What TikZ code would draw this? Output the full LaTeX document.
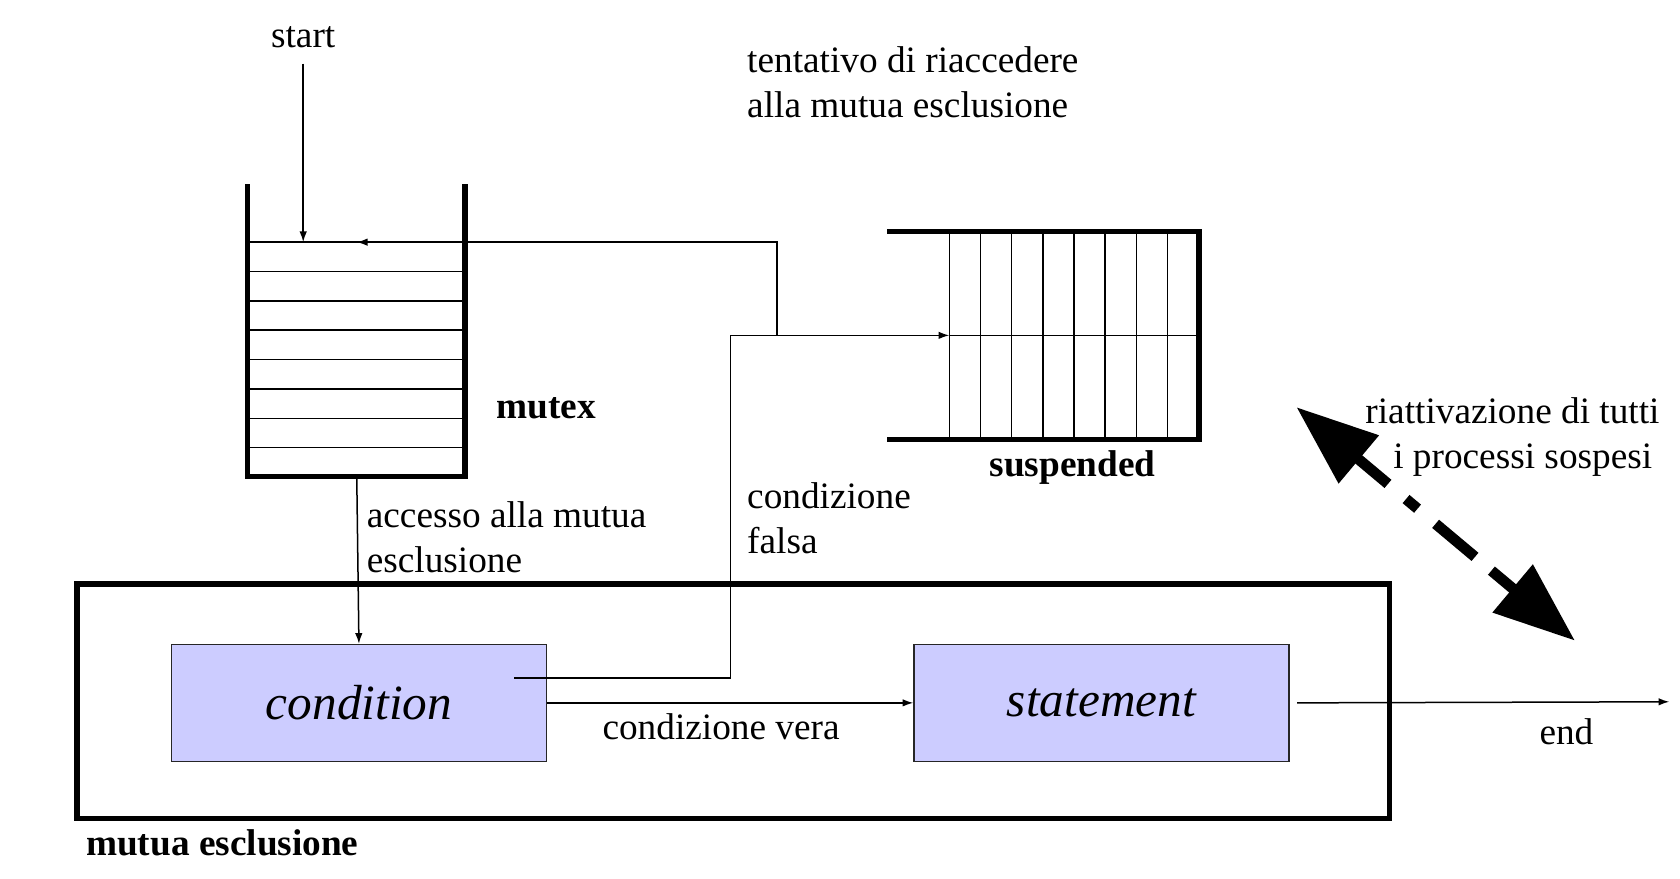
\documentclass[tikz,border=0pt]{standalone}
\usepackage{fontspec}
\setmainfont{Liberation Serif}
\usetikzlibrary{arrows.meta}
\definecolor{boxfill}{HTML}{CCCCFF}
\begin{document}
\begin{tikzpicture}[x=0.5pt,y=-0.5pt,
  lbl/.style={inner sep=0pt, font=\fontsize{17.4}{21}\selectfont},
  lblb/.style={inner sep=0pt, font=\fontsize{17.4}{21}\selectfont\bfseries},
  box/.style={draw=black!85, line width=0.6pt, fill=boxfill, minimum width=175pt,
    minimum height=54.5pt, inner sep=0pt, font=\fontsize{23}{27}\selectfont\itshape},
  thinline/.style={line width=0.7pt},
  wall/.style={line width=2.5pt},
  arr/.style={thinline, -{Latex[length=5pt,width=3.5pt]}},
  bigarr/.style={line width=5pt, {Triangle[length=38pt,width=28pt]}-{Triangle[length=38pt,width=28pt]},
    dash pattern=on 19pt off 11pt on 7pt off 11pt on 24pt off 10pt on 20pt off 10pt},
]
\useasboundingbox (0,0) rectangle (1568,819.5);

% mutex queue
\draw[wall] (231,172) -- (231,445) -- (434,445) -- (434,172);
\foreach \i in {0,...,7} \draw[thinline] (231,226+27.4*\i) -- (434,226+27.4*\i);
\node[lblb] (mutexlbl) at (510,381) {mutex};

% suspended queue
\draw[wall] (828,216) -- (1119,216) -- (1119,410) -- (828,410);
\foreach \i in {0,...,7} \draw[thinline] (886+29.1*\i,216) -- (886+29.1*\i,410);
\draw[thinline] (886,313) -- (1119,313);
\node[lblb] (susplbl) at (1001,436) {suspended};

% coordinates
\coordinate (startin) at (283,226);
\coordinate (mslot) at (333,226);
\coordinate (mbottom) at (333,447);
\coordinate (cf) at (480,633);
\coordinate (cfcorner) at (682,313);
\coordinate (suspin) at (886,313);
\coordinate (retjoin) at (725,313);
\coordinate (endpt) at (1558,655);
\coordinate (ra) at (1210,380);
\coordinate (rb) at (1470,598);

% mutua esclusione region
\node[draw, wall, minimum width=612.5pt, minimum height=109.5pt, inner sep=0pt] (me) at (684.5,654.5) {};
\node[lblb, anchor=west] (melbl) at (80,787) {mutua esclusione};

% boxes
\node[box] (cond) at (335,656) {condition};
\node[box] (stmt) at (1028,656) {statement};

% labels
\node[lbl] (start) at (283,35) {start};
\node[lbl, align=left, anchor=west] (tent) at (697,77) {tentativo di riaccedere\\alla mutua esclusione};
\node[lbl, align=left, anchor=west] (cfalsa) at (697,484) {condizione\\falsa};
\node[lbl, align=left, anchor=west] (acc) at (342,501) {accesso alla mutua\\esclusione};
\node[lbl, align=left, anchor=west] (riatt) at (1274,407.5) {riattivazione di tutti\\\hspace*{13pt}i processi sospesi};
\node[lbl] (vera) at (673,678) {condizione vera};
\node[lbl] (endlbl) at (1462,683) {end};

% connectors
\draw[arr] ([yshift=-7pt]start.south) -- (startin);
\draw[arr] (mbottom) -- (cond.north);
\draw[arr] (cond.east) -- (stmt.west);
\draw[arr] ([xshift=3.5pt]stmt.east) -- (endpt);
\draw[arr] (cf) -| (cfcorner) -- (suspin);
\draw[arr] (retjoin) |- (mslot);
\draw[bigarr] (ra) -- (rb);
\end{tikzpicture}
\end{document}
